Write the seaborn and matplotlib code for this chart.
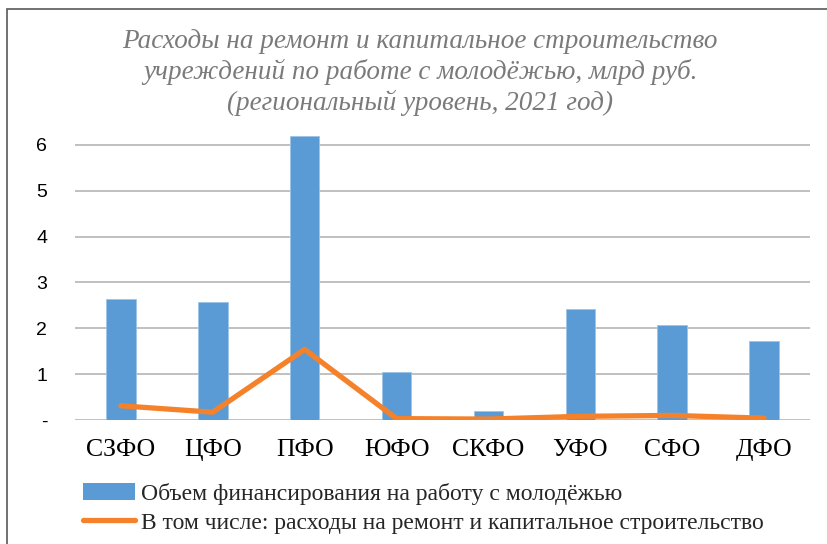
import matplotlib
matplotlib.use("Agg")
import matplotlib.pyplot as plt
import numpy as np
import pandas as pd
import seaborn as sns
from matplotlib.lines import Line2D
from matplotlib.patches import Patch, Rectangle

regions = ["СЗФО", "ЦФО", "ПФО", "ЮФО", "СКФО", "УФО", "СФО", "ДФО"]
funding = [2.63, 2.57, 6.20, 1.04, 0.20, 2.42, 2.08, 1.72]
repair = [0.31, 0.17, 1.54, 0.03, 0.02, 0.08, 0.10, 0.04]
ytick_vals = [0, 1, 2, 3, 4, 5, 6]
ytick_labels = ["-", "1", "2", "3", "4", "5", "6"]

title = ("Расходы на ремонт и капитальное строительство\n"
         "учреждений по работе с молодёжью, млрд руб.\n"
         "(региональный уровень, 2021 год)")
label_bar = "Объем финансирования на работу с молодёжью"
label_line = "В том числе: расходы на ремонт и капитальное строительство"

BLUE = "#5B9BD5"
ORANGE = "#F5822A"
GRID = "#C0C0C0"

sns.set_theme(style="white")
plt.rcParams['font.family'] = ['Liberation Serif', 'DejaVu Serif']

df = pd.DataFrame({"region": regions, "funding": funding, "repair": repair})

fig = plt.figure(figsize=(8.28, 5.44), dpi=100)
ax = fig.add_axes([75 / 828, (544 - 420) / 544, (810 - 75) / 828, (420 - 122) / 544])

sns.barplot(data=df, x="region", y="funding", color=BLUE, saturation=1,
            width=0.32, ax=ax, zorder=3, edgecolor="#9CC3E6", linewidth=0.6)
sns.lineplot(x=np.arange(len(regions)), y=df["repair"], color=ORANGE,
             linewidth=3.8, ax=ax, zorder=4, solid_capstyle="round")

ax.set_xlim(-0.5, len(regions) - 0.5)
ax.set_ylim(0, 6.5)
ax.set_yticks(ytick_vals)
ax.set_yticklabels(ytick_labels, family=['Liberation Sans', 'DejaVu Sans'], fontsize=14)
for v in ytick_vals:
    ax.axhline(v, color=GRID, linewidth=1.4, zorder=1)
ax.set_xticks(range(len(regions)))
ax.set_xticklabels(regions, fontsize=18.5)
ax.tick_params(axis="y", length=0, pad=20, colors="#000000")
ax.tick_params(axis="x", length=0, pad=14, colors="#000000")
ax.set_xlabel("")
ax.set_ylabel("")
for s in ax.spines.values():
    s.set_visible(False)

fig.text(420 / 828, 1 - 29 / 544, title, ha="center", va="top", fontsize=19.5,
         style="italic", color="#7A7A7A", linespacing=1.25)

handles = [Patch(facecolor=BLUE, edgecolor="none"),
           Line2D([0], [0], color=ORANGE, linewidth=3.8, solid_capstyle="round")]
fig.legend(handles, [label_bar, label_line], loc="upper left",
           bbox_to_anchor=(83 / 828, 1 - 483 / 544), frameon=False,
           fontsize=17, handlelength=2.2, handletextpad=0.25,
           labelspacing=0.3, borderaxespad=0, borderpad=0)

fig.patches.append(Rectangle((7 / 828, -0.1), 1.2, 1 - 9 / 544 + 0.1,
                             transform=fig.transFigure, fill=False,
                             edgecolor="#595959", linewidth=1.2))

fig.savefig("out.png", dpi=100)
